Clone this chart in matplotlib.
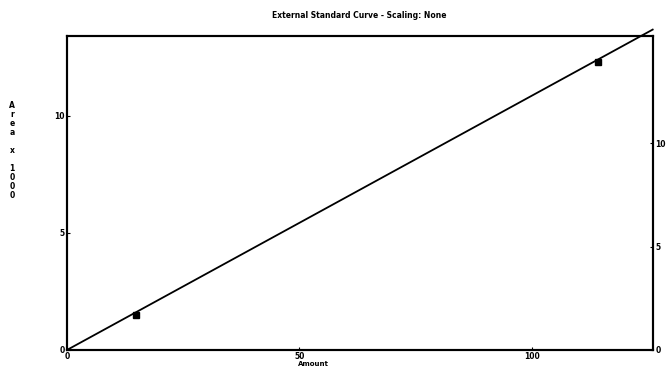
import numpy as np
import matplotlib.pyplot as plt

# calibration points
amount = [14.8, 114.3]
area = [1.5, 12.3]
fit_x = [0, 126]
x_ticks = [0, 50, 100]
y_ticks = [0, 5, 10]

slope = np.polyfit(amount, area, 1)[0]
fit_y = [slope * v for v in fit_x]

plt.rcParams['font.family'] = 'DejaVu Sans'
plt.rcParams['font.weight'] = 'bold'

fig = plt.figure(figsize=(6.66, 3.68), dpi=100)
ax = fig.add_axes([0.1006, 0.049, 0.8794, 0.853])

ax.plot(fit_x, fit_y, color='black', lw=1.3, clip_on=False)
ax.plot(amount, area, 's', color='black', ms=4.5)

ax.set_xlim(0, 126)
ax.set_ylim(0, 13.4)
ax.set_xticks(x_ticks)
ax.set_yticks(y_ticks)
ax.tick_params(axis='both', labelsize=5.5, length=2, width=0.8, pad=1.5, direction='in')
for lbl in ax.get_xticklabels() + ax.get_yticklabels():
    lbl.set_fontweight('bold')
for sp in ax.spines.values():
    sp.set_linewidth(1.5)

ax2 = ax.twinx()
ax2.set_ylim(0, 15.2)
ax2.set_yticks(y_ticks)
ax2.tick_params(axis='y', labelsize=5.5, length=2, width=0.8, pad=2, direction='in')
for lbl in ax2.get_yticklabels():
    lbl.set_fontweight('bold')
for sp in ax2.spines.values():
    sp.set_linewidth(1.5)

fig.text(0.47, 0.012, 'Amount', fontsize=5, fontweight='bold',
         ha='center', va='center')
fig.text(0.018, 0.59, '\n'.join('Area x 1000'), fontsize=5.5,
         fontweight='bold', ha='center', va='center', linespacing=1.0)
fig.text(0.54, 0.958, 'External Standard Curve - Scaling: None', fontsize=5.5,
         fontweight='bold', ha='center', va='center')

fig.savefig('out.png', dpi=100)
